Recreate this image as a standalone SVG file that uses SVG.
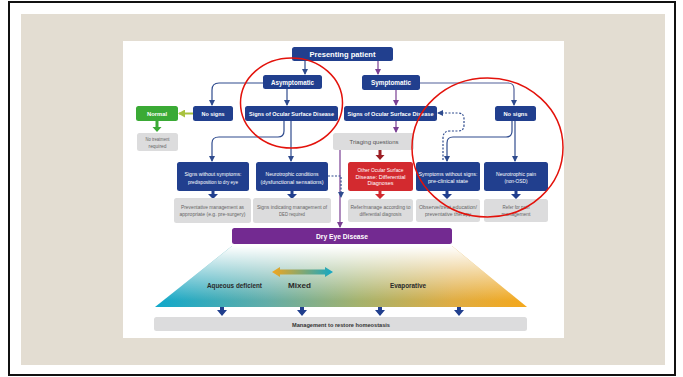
<svg xmlns="http://www.w3.org/2000/svg" width="683" height="377" viewBox="0 0 683 377">
<style>
text{font-family:"Liberation Sans",Arial,sans-serif;text-anchor:middle}
.b{fill:#213f8e}
.g{fill:#dcdcdd}
.t{fill:#fff;font-weight:bold}
.s{fill:#fff;font-size:5px}
.gt{fill:#666;font-size:5px}
.lb{fill:#2a2a2a;font-weight:bold;font-size:7px}
.ln{fill:none;stroke:#2f4b8e;stroke-width:1.2}
.pl{fill:none;stroke:#7a3f93;stroke-width:1.2}
.ds{fill:none;stroke:#2f4b8e;stroke-width:1.2;stroke-dasharray:2 1.5}
.blk{fill:#213f8e}
.circ{fill:none;stroke:#e3120b;stroke-width:1.5}
</style>
<defs>
<marker id="ab" markerWidth="6" markerHeight="6" refX="5" refY="3" orient="auto" markerUnits="userSpaceOnUse"><path d="M0,0 L6,3 L0,6 z" fill="#2f4b8e"/></marker>
<marker id="ap" markerWidth="6" markerHeight="6" refX="5" refY="3" orient="auto" markerUnits="userSpaceOnUse"><path d="M0,0 L6,3 L0,6 z" fill="#7a3f93"/></marker>
<marker id="ag" markerWidth="7" markerHeight="8" refX="6" refY="4" orient="auto" markerUnits="userSpaceOnUse"><path d="M0,0 L7,4 L0,8 z" fill="#a9c23f"/></marker>
<linearGradient id="hz" x1="155" y1="0" x2="527" y2="0" gradientUnits="userSpaceOnUse">
<stop offset="0" stop-color="#10a8ca"/><stop offset="0.3" stop-color="#62ada8"/><stop offset="0.55" stop-color="#a5b26c"/><stop offset="0.8" stop-color="#dfac42"/><stop offset="1" stop-color="#f4a81c"/>
</linearGradient>
<linearGradient id="vt" x1="0" y1="246" x2="0" y2="307" gradientUnits="userSpaceOnUse">
<stop offset="0" stop-color="#fff" stop-opacity="1"/><stop offset="0.9" stop-color="#fff" stop-opacity="0"/>
</linearGradient>
<linearGradient id="da" x1="272" y1="0" x2="333" y2="0" gradientUnits="userSpaceOnUse">
<stop offset="0" stop-color="#f2a61e"/><stop offset="1" stop-color="#12a8c6"/>
</linearGradient>
</defs>

<rect x="9" y="2" width="666" height="373" fill="#fff" stroke="#111" stroke-width="2"/>
<rect x="21" y="14" width="644" height="351" fill="#e3ddd2"/>
<rect x="123" y="41" width="441" height="297" fill="#fff"/>

<g id="spectrum">
<polygon points="232,246 452,246 527,307 155,307" fill="url(#hz)"/>
<polygon points="232,246 452,246 527,307 155,307" fill="url(#vt)"/>
<polygon points="272,272 280,267 280,269.5 325,269.5 325,267 333,272 325,277 325,274.5 280,274.5 280,277" fill="url(#da)"/>
<text class="lb" x="234.5" y="288" textLength="55" lengthAdjust="spacingAndGlyphs">Aqueous deficient</text>
<text class="lb" x="299.5" y="288" textLength="23" lengthAdjust="spacingAndGlyphs">Mixed</text>
<text class="lb" x="408" y="288" textLength="36" lengthAdjust="spacingAndGlyphs">Evaporative</text>
</g>

<g id="connectors">
<path class="ln" d="M305,61 V74" marker-end="url(#ab)"/>
<path class="pl" d="M378,61 V74" marker-end="url(#ap)"/>
<path class="ln" d="M263,83 H219 Q212,83 212,90 V105" marker-end="url(#ab)"/>
<path class="ln" d="M287,89 V105" marker-end="url(#ab)"/>
<path fill="none" stroke="#a9c23f" stroke-width="2" d="M193,113.5 H179" marker-end="url(#ag)"/>
<polygon points="155.5,121 158.5,121 158.5,127 161.5,127 157,132 152.5,127 155.5,127" fill="#3aaa35"/>
<path class="ln" d="M284,121 V131 Q284,137 278,137 H219 Q212,137 212,143 V161" marker-end="url(#ab)"/>
<path class="ln" d="M291,121 V161" marker-end="url(#ab)"/>
<path class="pl" d="M396,90 V105" marker-end="url(#ap)"/>
<path fill="none" stroke="#52619a" stroke-width="1.2" d="M420,83 H508 Q514,83 514,89 V105" marker-end="url(#ab)"/>
<path class="ln" d="M515,121 V161" marker-end="url(#ab)"/>
<path class="ln" d="M512,121 V131 Q512,137 506,137 H453 Q447,137 447,143 V161" marker-end="url(#ab)"/>
<path class="ds" d="M443,160 V138 Q443,131 450,131 H458 Q464,131 464,125 V119 Q464,113 458,113 H438" marker-end="url(#ab)"/>
<path class="pl" d="M396,121 V132" marker-end="url(#ap)"/>
<polygon points="378.5,150 381.5,150 381.5,155 384.5,155 380,160 375.5,155 378.5,155" fill="#9c1e24"/>
<path class="pl" d="M340,150 V227" marker-end="url(#ap)"/>
<path class="ds" d="M328,176 H341 V197" marker-end="url(#ab)"/>
<polygon class="blk" points="211.5,191 214.5,191 214.5,194 218,194 213,199 208,194 211.5,194"/>
<polygon class="blk" points="290.5,191 293.5,191 293.5,194 297,194 292,199 287,194 290.5,194"/>
<polygon points="378.5,191 381.5,191 381.5,194 385,194 380,199 375,194 378.5,194" fill="#d32a2f"/>
<polygon class="blk" points="445.5,191 448.5,191 448.5,194 452,194 447,199 442,194 445.5,194"/>
<polygon class="blk" points="514.5,191 517.5,191 517.5,194 521,194 516,199 511,194 514.5,194"/>
<polygon class="blk" points="220,307 224,307 224,310 227,310 222,316 217,310 220,310"/>
<polygon class="blk" points="300,307 304,307 304,310 307,310 302,316 297,310 300,310"/>
<polygon class="blk" points="378,307 382,307 382,310 385,310 380,316 375,310 378,310"/>
<polygon class="blk" points="457,307 461,307 461,310 464,310 459,316 454,310 457,310"/>
</g>

<g id="presenting"><rect class="b" x="292" y="47" width="101" height="14" rx="2.5"/><text class="t" x="342.5" y="56.5" font-size="7" textLength="66" lengthAdjust="spacingAndGlyphs">Presenting patient</text></g>
<g id="asymptomatic"><rect class="b" x="263" y="75" width="59" height="14" rx="2.5"/><text class="t" x="292.5" y="84.5" font-size="6.5" textLength="43" lengthAdjust="spacingAndGlyphs">Asymptomatic</text></g>
<g id="symptomatic"><rect class="b" x="362" y="75" width="58" height="15" rx="2.5"/><text class="t" x="391" y="85" font-size="6.5" textLength="40" lengthAdjust="spacingAndGlyphs">Symptomatic</text></g>
<g id="normal"><rect x="136" y="106" width="42" height="15" rx="2.5" fill="#3aaa35"/><text class="t" x="157" y="116" font-size="6" textLength="20" lengthAdjust="spacingAndGlyphs">Normal</text></g>
<g id="no-signs-a"><rect class="b" x="193" y="106" width="40" height="15" rx="2.5"/><text class="t" x="213" y="116" font-size="6" textLength="23" lengthAdjust="spacingAndGlyphs">No signs</text></g>
<g id="signs-osd-a"><rect class="b" x="245" y="106" width="93" height="15" rx="2.5"/><text class="t" x="291.5" y="116" font-size="6" textLength="85" lengthAdjust="spacingAndGlyphs">Signs of Ocular Surface Disease</text></g>
<g id="signs-osd-s"><rect class="b" x="344" y="106" width="93" height="15" rx="2.5"/><text class="t" x="390.5" y="116" font-size="6" textLength="86" lengthAdjust="spacingAndGlyphs">Signs of Ocular Surface Disease</text></g>
<g id="no-signs-s"><rect class="b" x="495" y="106" width="41" height="15" rx="2.5"/><text class="t" x="515.5" y="116" font-size="6" textLength="24" lengthAdjust="spacingAndGlyphs">No signs</text></g>
<g id="no-treatment"><rect class="g" x="137" y="133" width="41" height="18" rx="2.5"/><text class="gt" x="157.5" y="141" textLength="24" lengthAdjust="spacingAndGlyphs">No treatment</text><text class="gt" x="157.5" y="147.5" textLength="18" lengthAdjust="spacingAndGlyphs">required</text></g>
<g id="triaging"><rect class="g" x="333" y="133" width="81" height="17" rx="2.5"/><text x="374" y="144" font-size="6" fill="#555" textLength="49" lengthAdjust="spacingAndGlyphs">Triaging questions</text></g>

<g id="signs-without-symptoms"><rect class="b" x="177" y="162" width="72" height="29" rx="2.5"/><text class="s" x="213" y="176" textLength="57" lengthAdjust="spacingAndGlyphs">Signs without symptoms:</text><text class="s" x="213" y="183.5" textLength="50" lengthAdjust="spacingAndGlyphs">predisposition to dry eye</text></g>
<g id="neurotrophic-conditions"><rect class="b" x="256" y="162" width="72" height="29" rx="2.5"/><text class="s" x="292" y="176" textLength="53" lengthAdjust="spacingAndGlyphs">Neurotrophic conditions</text><text class="s" x="292" y="183.5" textLength="63" lengthAdjust="spacingAndGlyphs">(dysfunctional sensations)</text></g>
<g id="other-osd"><rect x="348" y="162" width="65" height="29" rx="2.5" fill="#d32a2f"/><text class="s" x="380.5" y="172" textLength="46" lengthAdjust="spacingAndGlyphs">Other Ocular Surface</text><text class="s" x="380.5" y="178.5" textLength="50" lengthAdjust="spacingAndGlyphs">Disease: Differential</text><text class="s" x="380.5" y="185" textLength="26" lengthAdjust="spacingAndGlyphs">Diagnoses</text></g>
<g id="symptoms-without-signs"><rect class="b" x="416" y="162" width="64" height="29" rx="2.5"/><text class="s" x="448" y="176" textLength="59" lengthAdjust="spacingAndGlyphs">Symptoms without signs:</text><text class="s" x="448" y="183" textLength="40" lengthAdjust="spacingAndGlyphs">pre-clinical state</text></g>
<g id="neurotrophic-pain"><rect class="b" x="484" y="162" width="64" height="29" rx="2.5"/><text class="s" x="516" y="176" textLength="40" lengthAdjust="spacingAndGlyphs">Neurotrophic pain</text><text class="s" x="516" y="183" textLength="23" lengthAdjust="spacingAndGlyphs">(non-OSD)</text></g>

<g id="preventative"><rect class="g" x="174" y="198" width="77" height="25" rx="2.5"/><text class="gt" x="212.5" y="209" textLength="63" lengthAdjust="spacingAndGlyphs">Preventative management as</text><text class="gt" x="212.5" y="216" textLength="66" lengthAdjust="spacingAndGlyphs">appropriate (e.g. pre-surgery)</text></g>
<g id="signs-indicating"><rect class="g" x="253" y="198" width="78" height="25" rx="2.5"/><text class="gt" x="292" y="209" textLength="70" lengthAdjust="spacingAndGlyphs">Signs indicating management of</text><text class="gt" x="292" y="216" textLength="26" lengthAdjust="spacingAndGlyphs">DED required</text></g>
<g id="refer-manage"><rect class="g" x="348" y="199" width="65" height="23" rx="2.5"/><text class="gt" x="380.5" y="209" textLength="60" lengthAdjust="spacingAndGlyphs">Refer/manage according to</text><text class="gt" x="380.5" y="216" textLength="42" lengthAdjust="spacingAndGlyphs">differential diagnosis</text></g>
<g id="observe"><rect class="g" x="416" y="199" width="64" height="23" rx="2.5"/><text class="gt" x="448" y="209" textLength="58" lengthAdjust="spacingAndGlyphs">Observe/treat education/</text><text class="gt" x="448" y="216" textLength="46" lengthAdjust="spacingAndGlyphs">preventative therapy</text></g>
<g id="refer-pain"><rect class="g" x="484" y="199" width="64" height="23" rx="2.5"/><text class="gt" x="516" y="209" textLength="27" lengthAdjust="spacingAndGlyphs">Refer for pain</text><text class="gt" x="516" y="216" textLength="29" lengthAdjust="spacingAndGlyphs">management</text></g>

<g id="dry-eye-disease"><rect x="232" y="228" width="220" height="16" rx="2.5" fill="#732a91"/><text class="t" x="342" y="239" font-size="7" textLength="52" lengthAdjust="spacingAndGlyphs">Dry Eye Disease</text></g>
<g id="management"><rect class="g" x="154" y="317" width="373" height="14" rx="2.5"/><text x="341" y="326.5" font-size="6" font-weight="bold" fill="#333" textLength="98" lengthAdjust="spacingAndGlyphs">Management to restore homeostasis</text></g>

<g id="annotations">
<ellipse class="circ" cx="291.5" cy="103" rx="51" ry="45"/>
<ellipse class="circ" cx="487.5" cy="147.5" rx="75.5" ry="69.5"/>
</g>
</svg>
